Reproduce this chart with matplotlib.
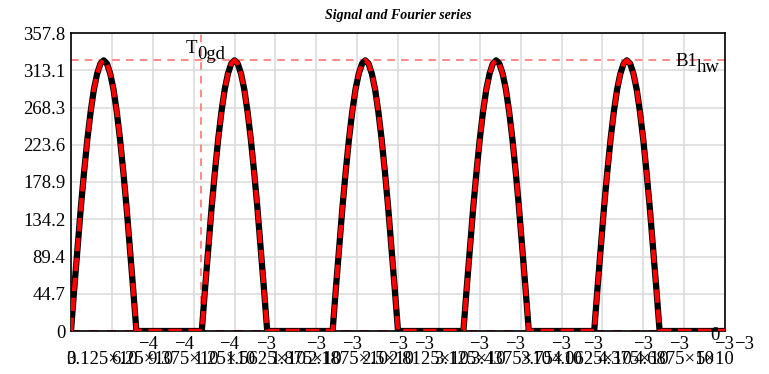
import numpy as np
import matplotlib.pyplot as plt
from matplotlib import transforms

# Half-wave signal, 0.025 ms between samples.
# One positive half cycle, the rest of each period sits at zero.
lobe_volts = [0, 51, 100, 148, 191, 230, 263, 290, 309, 321, 325,
              321, 309, 290, 263, 230, 191, 148, 100, 51, 0]
zero_samples = 19
n_periods = 5
step = 0.025e-3

signal = (lobe_volts + [0] * zero_samples) * n_periods + [0]
fourier = list(signal)          # series sits right on top of the signal
time = np.arange(len(signal)) * step

# marker values
B1_hw = 325.3
T0gd = 0.994e-3

ytick_vals = [0, 44.725, 89.45, 134.175, 178.9, 223.625, 268.35, 313.075, 357.8]
ytick_labels = ["0", "44.7", "89.4", "134.2", "178.9", "223.6", "268.3", "313.1", "357.8"]

xtick_vals = np.linspace(0, 5e-3, 17)
xtick_mant = ["0", "3.125", "6.25", "9.375", "1.25", "1.5625", "1.875", "2.1875",
              "2.5", "2.8125", "3.125", "3.4375", "3.75", "4.0625", "4.375",
              "4.6875", "5"]
xtick_exp = [""] + ["\u22124"] * 3 + ["\u22123"] * 13

FS = 13.5
plt.rcParams['font.family'] = ['Liberation Serif', 'DejaVu Serif']

fig = plt.figure(figsize=(7.69, 3.74), dpi=100)
ax = fig.add_axes([71 / 769, 1 - 331 / 374, 654 / 769, 298 / 374])

ax.set_xlim(0, 5e-3)
ax.set_ylim(0, 357.8)
ax.set_xticks(xtick_vals)
ax.set_xticklabels([])
ax.set_yticks(ytick_vals)
ax.set_yticklabels(ytick_labels, fontsize=FS)
ax.tick_params(length=0, pad=4)
ax.grid(True, color='#dadada', lw=1.1)
ax.set_axisbelow(True)
for s in ax.spines.values():
    s.set_color('black')
    s.set_linewidth(1.2)

# marker lines
ax.axhline(0, color='red', lw=1.3, ls=(0, (5, 5)), zorder=2)
ax.axhline(B1_hw, color='#ff6a6a', lw=1.1, ls=(0, (5, 4)), zorder=2)
ax.axvline(T0gd, color='#ff6a6a', lw=1.1, ls=(0, (5, 4)), zorder=2)

# signal and fourier series
ax.plot(time, signal, color='black', lw=4.5, solid_capstyle='round', zorder=3)
ax.plot(time, fourier, color='red', lw=3.2, ls=(0, (3, 1.5)), zorder=4)

fig.text(398 / 769, 1 - 19 / 374, "Signal and Fourier series", ha='center',
         va='baseline', fontsize=10, fontweight='bold', fontstyle='italic')

fig.canvas.draw()
rend = fig.canvas.get_renderer()


def text_w(s):
    t = fig.text(0, 0, s, fontsize=FS)
    w = t.get_window_extent(rend).width
    t.remove()
    return w


xtrans = transforms.blended_transform_factory(ax.transData, ax.transAxes)

# x tick labels, mathcad style with raised exponents
for x, m, e in zip(xtick_vals, xtick_mant, xtick_exp):
    main = m + "\u00d710" if e else m
    wm = text_w(main)
    we = text_w(e) if e else 0
    left = -(wm + we) / 2
    ax.annotate(main, xy=(x, 0), xycoords=xtrans, xytext=(left, -33),
                textcoords='offset pixels', ha='left', va='baseline', fontsize=FS,
                annotation_clip=False)
    if e:
        ax.annotate(e, xy=(x, 0), xycoords=xtrans, xytext=(left + wm, -18),
                    textcoords='offset pixels', ha='left', va='baseline',
                    fontsize=FS, annotation_clip=False)

# T0gd label
wT = text_w("T")
ax.annotate("T", xy=(T0gd, 1), xycoords=xtrans, xytext=(-15, -20),
            textcoords='offset pixels', ha='left', va='baseline', fontsize=FS)
ax.annotate("0gd", xy=(T0gd, 1), xycoords=xtrans, xytext=(-15 + wT, -26),
            textcoords='offset pixels', ha='left', va='baseline', fontsize=FS)

# B1hw label
ytrans = transforms.blended_transform_factory(ax.transAxes, ax.transData)
w_hw = text_w("hw")
ax.annotate("hw", xy=(1, B1_hw), xycoords=ytrans, xytext=(-5, -12),
            textcoords='offset pixels', ha='right', va='baseline', fontsize=FS)
ax.annotate("B1", xy=(1, B1_hw), xycoords=ytrans, xytext=(-5 - w_hw, -6),
            textcoords='offset pixels', ha='right', va='baseline', fontsize=FS)

# zero marker label
ax.annotate("0", xy=(1, 0), xycoords=ytrans, xytext=(-5, -9),
            textcoords='offset pixels', ha='right', va='baseline', fontsize=FS,
            annotation_clip=False)

fig.savefig("out.png", dpi=100)
